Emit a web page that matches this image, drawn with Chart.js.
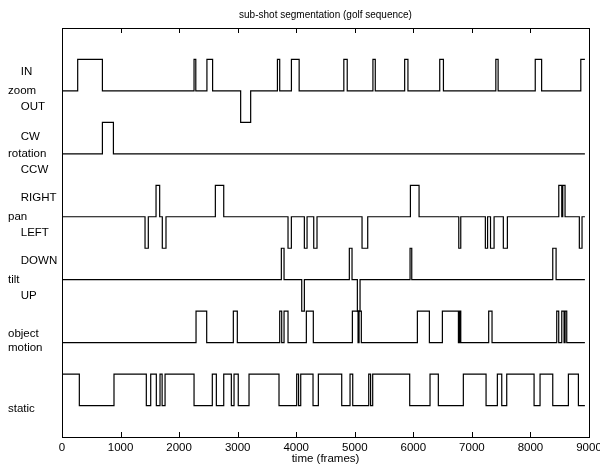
<!DOCTYPE html>
<html>
<head>
<meta charset="utf-8">
<script src="https://cdn.jsdelivr.net/npm/chart.js@4.4.1/dist/chart.umd.min.js"></script>
<style>
  html, body { margin: 0; padding: 0; background: #fff; }
</style>
</head>
<body>
<canvas id="chart" width="600" height="466"></canvas>
<script>
// frame range of the sequence
const frameEnd = 8930;

// row levels on the y scale (0 .. 13)
const zoomBase = 11, rotationBase = 9, panBase = 7, tiltBase = 5, objectBase = 3, staticBase = 1;

// pulses as [start frame, end frame]
const zoomIn = [[268, 690], [2255, 2285], [2475, 2572], [3679, 3718], [3918, 4050], [4813, 4871],
  [5310, 5350], [5852, 5908], [6451, 6514], [7409, 7448], [8082, 8191], [8860, 8930]];
const zoomOut = [[3051, 3222]];
const rotationCW = [[690, 878]];
const rotationCCW = [];
const panRight = [[1606, 1668], [2619, 2762], [5950, 6098], [8484, 8535], [8552, 8591]];
const panLeft = [[1418, 1474], [1713, 1776], [3860, 3917], [4139, 4185], [4299, 4355], [5124, 5221],
  [6776, 6810], [7230, 7268], [7318, 7379], [7537, 7606], [8835, 8881]];
const tiltDown = [[3746, 3792], [4907, 4953], [5944, 5973], [8381, 8438]];
const tiltUp = [[4094, 4139], [5044, 5090]];
const objectMotion = [[2289, 2471], [2926, 2994], [3718, 3752], [3792, 3860], [4173, 4292], [4959, 5056],
  [5073, 5112], [6069, 6274], [6496, 6770], [6790, 6810], [7287, 7344], [8449, 8483], [8535, 8574], [8592, 8620]];
const staticOn = [[0, 296], [888, 1440], [1515, 1611], [1674, 1710], [1760, 2255], [2567, 2636],
  [2762, 2892], [2938, 3010], [3194, 3706], [4008, 4040], [4077, 4287], [4378, 4777], [4919, 4965],
  [5238, 5270], [5306, 5938], [6285, 6427], [6854, 7242], [7435, 7510], [7595, 8062], [8164, 8381], [8648, 8819]];

// y axis labels
const yTickValues = [11.6, 11, 10.5, 9.55, 9, 8.5, 7.6, 7, 6.5, 5.6, 5, 4.5, 3.05, 0.9];
const yTickLabels = ['    IN', 'zoom', '    OUT', '    CW', 'rotation', '    CCW', '    RIGHT', 'pan',
  '    LEFT', '    DOWN', 'tilt', '    UP', ['object', 'motion'], 'static'];

const xTicks = [0, 1000, 2000, 3000, 4000, 5000, 6000, 7000, 8000, 9000];

// turn pulse lists into stepped points
function steps(base, up, down) {
  const pulses = up.map(p => [p[0], p[1], base + 1]).concat(down.map(p => [p[0], p[1], base - 1]));
  pulses.sort((a, b) => a[0] - b[0]);
  const pts = [{ x: 0, y: base }];
  pulses.forEach(([a, b, lvl]) => {
    pts.push({ x: a, y: lvl });
    if (b < frameEnd) pts.push({ x: b, y: base });
  });
  pts.push({ x: frameEnd, y: pts[pts.length - 1].y });
  return pts;
}

function row(data) {
  return {
    data: data,
    stepped: true,
    borderColor: '#000',
    borderWidth: 1.2,
    pointRadius: 0,
    fill: false
  };
}

// box + inward ticks + title
const framePlugin = {
  id: 'frame',
  afterDraw(chart) {
    const { ctx, chartArea: a, scales } = chart;
    ctx.save();
    ctx.strokeStyle = '#000';
    ctx.lineWidth = 1;
    ctx.strokeRect(a.left + 0.5, a.top + 0.5, a.right - a.left, a.bottom - a.top);
    ctx.beginPath();
    xTicks.forEach(v => {
      const px = Math.round(scales.x.getPixelForValue(v)) + 0.5;
      ctx.moveTo(px, a.bottom);
      ctx.lineTo(px, a.bottom - 5);
      ctx.moveTo(px, a.top);
      ctx.lineTo(px, a.top + 5);
    });
    ctx.stroke();
    ctx.fillStyle = '#000';
    ctx.font = '10px "Liberation Sans", Arial, sans-serif';
    ctx.textAlign = 'center';
    ctx.textBaseline = 'middle';
    ctx.fillText('sub-shot segmentation (golf sequence)', (a.left + a.right) / 2, 15);
    ctx.restore();
  }
};

Chart.defaults.font.family = '"Liberation Sans", Arial, sans-serif';
Chart.defaults.font.size = 11.5;
Chart.defaults.color = '#000';

const ctx = document.getElementById('chart').getContext('2d');
const chart = new Chart(ctx, {
  type: 'line',
  data: {
    datasets: [
      row(steps(zoomBase, zoomIn, zoomOut)),
      row(steps(rotationBase, rotationCW, rotationCCW)),
      row(steps(panBase, panRight, panLeft)),
      row(steps(tiltBase, tiltDown, tiltUp)),
      row(steps(objectBase, objectMotion, [])),
      row(steps(staticBase, staticOn, []))
    ]
  },
  options: {
    responsive: false,
    animation: false,
    devicePixelRatio: 1,
    layout: { padding: { top: 28, left: 8, right: 0, bottom: 0 } },
    plugins: {
      legend: { display: false },
      tooltip: { enabled: false }
    },
    scales: {
      x: {
        type: 'linear',
        min: 0,
        max: 9000,
        grid: { display: false, drawTicks: false },
        border: { display: false },
        ticks: { stepSize: 1000, padding: 4, maxRotation: 0, callback: v => String(v) },
        title: { display: true, text: 'time (frames)', padding: { top: 1, bottom: 0 } },
        afterFit(scale) {
          scale.height = 29;
          scale.paddingRight = 11;
        }
      },
      y: {
        type: 'linear',
        min: 0,
        max: 13,
        grid: { display: false, drawTicks: false },
        border: { display: false },
        afterBuildTicks(scale) {
          scale.ticks = yTickValues.map(v => ({ value: v }));
        },
        ticks: {
          crossAlign: 'far',
          autoSkip: false,
          callback: (value, index) => yTickLabels[index]
        },
        afterFit(scale) {
          scale.width = 54;
        }
      }
    }
  },
  plugins: [framePlugin]
});
</script>
</body>
</html>
